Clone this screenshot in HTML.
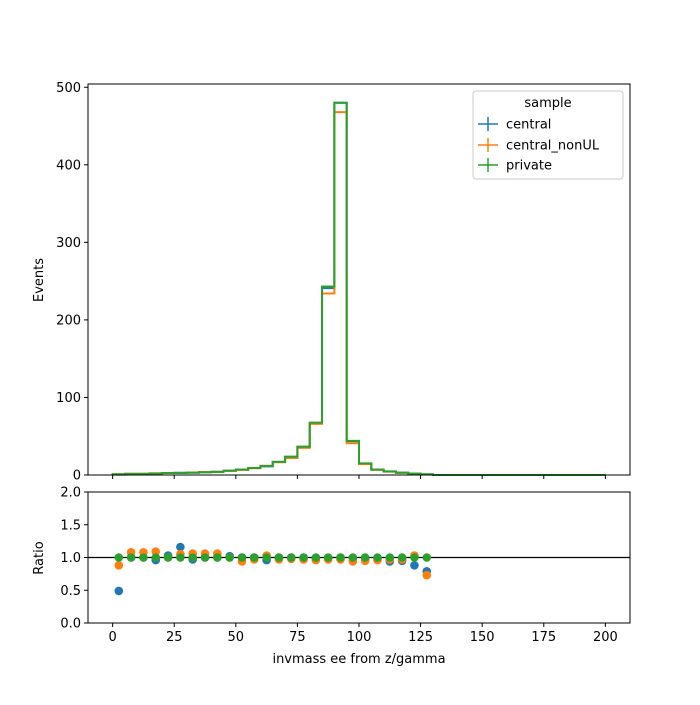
<!DOCTYPE html>
<html><head><meta charset="utf-8"><style>body{margin:0;background:#fff}svg text{font-family:"DejaVu Sans","Liberation Sans",sans-serif;font-size:13px}</style></head>
<body>
<svg id="c" width="700" height="700" viewBox="0 0 700 700"></svg>
<script>
const binEdgesStart = 0, binWidth = 5, nBins = 40;
const privateVals = [1,1.5,1.5,2,2.5,2.5,3,3.5,4,5.5,7,9,11.6,17,23.6,36.5,67.5,243,480,44,15,7,4.7,3,2,1,0,0,0,0,0,0,0,0,0,0,0,0,0,0];
const nonULVals = [0.9,1.6,1.6,2.2,2.5,2.6,3.2,3.7,4.2,5.5,6.6,8.7,12,16.5,22,35,66,234,468,41,14,6.7,4.5,2.9,2,0.7,0,0,0,0,0,0,0,0,0,0,0,0,0,0];
const centralVals = [0.5,1.5,1.5,1.9,2.6,2.9,2.9,3.5,4,5.6,7,9,11.1,17,23.6,36.5,67,241,480,43.5,14.7,6.9,4.4,2.85,1.76,0.79,0,0,0,0,0,0,0,0,0,0,0,0,0,0];
const ratioCentral = [0.49,1.0,1.0,0.96,1.03,1.16,0.97,1.0,1.0,1.02,1.0,1.0,0.96,1.0,1.0,1.0,0.99,0.99,1.0,0.99,0.98,0.99,0.94,0.95,0.88,0.79];
const ratioNonUL = [0.88,1.08,1.08,1.09,1.0,1.05,1.06,1.06,1.06,1.0,0.94,0.97,1.03,0.97,0.98,0.97,0.96,0.97,0.97,0.94,0.95,0.96,0.97,0.97,1.03,0.73];
const ratioPrivate = [1,1,1,1,1,1,1,1,1,1,1,1,1,1,1,1,1,1,1,1,1,1,1,1,1,1];
const xTicks = [0,25,50,75,100,125,150,175,200];
const yTicks = [0,100,200,300,400,500];
const rTicks = ["0.0","0.5","1.0","1.5","2.0"];

const svg = document.getElementById('c');
const NS = 'http://www.w3.org/2000/svg';
const L=88,R=630,T=84,B=475,RT=492,RB=623;
const X = v => L + (v+10)/220*(R-L);
const Y = v => B - v*0.7755;
const RY = v => RB - v/2*(RB-RT);
function el(tag, attrs, parent){const e=document.createElementNS(NS,tag);for(const k in attrs)e.setAttribute(k,attrs[k]);(parent||svg).appendChild(e);return e;}
function txt(s,attrs){const e=el('text',attrs);e.textContent=s;return e;}
const colors={central:'#1f77b4',nonUL:'#ff7f0e',priv:'#2ca02c'};

function hist(vals,color,name){
  let d='M'+X(binEdgesStart)+','+Y(0);
  for(let i=0;i<nBins;i++){const x0=X(binEdgesStart+i*binWidth),x1=X(binEdgesStart+(i+1)*binWidth);d+=' L'+x0+','+Y(vals[i])+' L'+x1+','+Y(vals[i]);}
  const p=el('path',{d:d,fill:'none',stroke:color,'stroke-width':2});
  
  
}
hist(centralVals,colors.central,'central-histogram');
hist(nonULVals,colors.nonUL,'central-nonul-histogram');
hist(privateVals,colors.priv,'private-histogram');

const f1=el('rect',{x:L,y:T,width:R-L,height:B-T,fill:'none',stroke:'#000','stroke-width':1});


const f2=el('rect',{x:L,y:RT,width:R-L,height:RB-RT,fill:'none',stroke:'#000','stroke-width':1});



xTicks.forEach(v=>{
  el('line',{x1:X(v),x2:X(v),y1:B,y2:B+4,stroke:'#000'});
  el('line',{x1:X(v),x2:X(v),y1:RB,y2:RB+4,stroke:'#000'});
  const t=txt(v,{x:X(v),y:RB+18,'text-anchor':'middle'});
  
  
});
yTicks.forEach(v=>{
  el('line',{x1:L-4,x2:L,y1:Y(v),y2:Y(v),stroke:'#000'});
  const t=txt(v,{x:L-7,y:Y(v)+4.5,'text-anchor':'end'});
  
  
});
rTicks.forEach(s=>{
  const v=parseFloat(s);
  el('line',{x1:L-4,x2:L,y1:RY(v),y2:RY(v),stroke:'#000'});
  const t=txt(s,{x:L-7,y:RY(v)+4.5,'text-anchor':'end'});
  
  
});
const ref=el('line',{x1:L,x2:R,y1:RY(1),y2:RY(1),stroke:'#000','stroke-width':1.2});



function pts(vals,color,name){
  vals.forEach((v,i)=>{
    const c=el('circle',{cx:X(binEdgesStart+(i+0.5)*binWidth),cy:RY(v),r:4.3,fill:color});
    
    
  });
}
pts(ratioCentral,colors.central,'central-ratio-point');
pts(ratioNonUL,colors.nonUL,'central-nonul-ratio-point');
pts(ratioPrivate,colors.priv,'private-ratio-point');

let t=txt('invmass ee from z/gamma',{x:(L+R)/2,y:663,'text-anchor':'middle'});

t=txt('Events',{x:43,y:280,'text-anchor':'middle',transform:'rotate(-90 43 280)'});

t=txt('Ratio',{x:43,y:558,'text-anchor':'middle',transform:'rotate(-90 43 558)'});


const lg=el('g',{});


el('rect',{x:473,y:91,width:150,height:88,rx:3,fill:'#fff',stroke:'#ccc'},lg);
const tt=el('text',{x:548,y:107,'text-anchor':'middle'},lg);tt.textContent='sample';
[['central',colors.central,124],['central_nonUL',colors.nonUL,145],['private',colors.priv,165]].forEach(([n,c,y])=>{
  const g=el('g',{},lg);
  
  
  el('line',{x1:478,x2:498,y1:y,y2:y,stroke:c,'stroke-width':1.5},g);
  el('line',{x1:488,x2:488,y1:y-7,y2:y+7,stroke:c,'stroke-width':1.5},g);
  const tx=el('text',{x:506,y:y+4.5},g);tx.textContent=n;
});
</script>
</body></html>
